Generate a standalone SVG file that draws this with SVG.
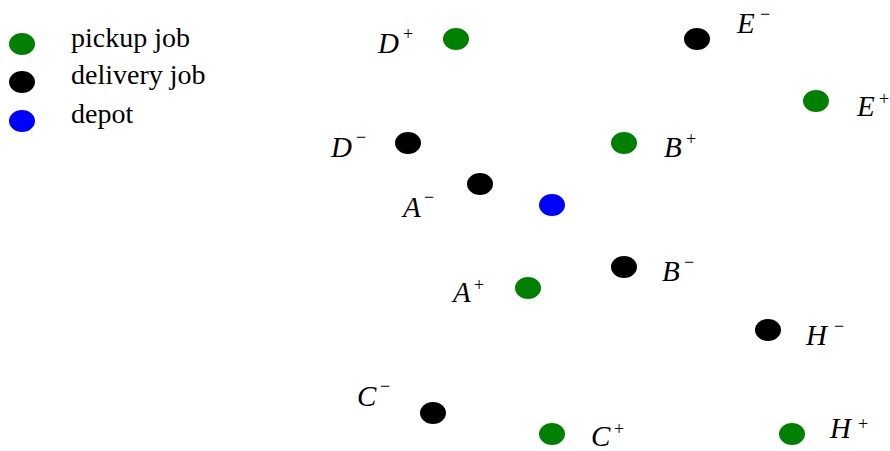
<svg xmlns="http://www.w3.org/2000/svg" width="890" height="451" viewBox="0 0 890 451">
  <style>
    .pick { fill: #008000; }
    .del { fill: #000000; }
    .dep { fill: #0000ff; }
    .leg { font-family: "Liberation Serif", "Times New Roman", serif; font-size: 28px; fill: #000; }
    .lbl { font-family: "Liberation Serif", "Times New Roman", serif; font-style: italic; font-size: 29px; fill: #000; }
    .sup { font-family: "Liberation Serif", "Times New Roman", serif; font-style: normal; font-size: 18px; fill: #000; }
  </style>
  <rect width="890" height="451" fill="#ffffff"/>

  <!-- legend -->
  <g id="legend">
    <ellipse class="pick" cx="22" cy="44" rx="13" ry="11"/>
    <ellipse class="del" cx="22" cy="82" rx="13" ry="11"/>
    <ellipse class="dep" cx="22" cy="121" rx="13" ry="11"/>
    <text class="leg" x="71" y="47">pickup job</text>
    <text class="leg" x="71" y="84">delivery job</text>
    <text class="leg" x="71" y="123">depot</text>
  </g>

  <!-- jobs -->
  <g id="Dp"><ellipse class="pick" cx="456" cy="39" rx="13" ry="11"/>
    <text class="lbl" x="378" y="53">D</text><text class="sup" x="403" y="40">+</text></g>
  <g id="Em"><ellipse class="del" cx="697" cy="39" rx="13" ry="11"/>
    <text class="lbl" x="737" y="33">E</text><text class="sup" x="760" y="20">−</text></g>
  <g id="Ep"><ellipse class="pick" cx="816" cy="101" rx="13" ry="11"/>
    <text class="lbl" x="857" y="116">E</text><text class="sup" x="879" y="105">+</text></g>
  <g id="Dm"><ellipse class="del" cx="408" cy="143" rx="13" ry="11"/>
    <text class="lbl" x="331" y="157">D</text><text class="sup" x="356" y="143">−</text></g>
  <g id="Bp"><ellipse class="pick" cx="624" cy="143" rx="13" ry="11"/>
    <text class="lbl" x="664" y="157">B</text><text class="sup" x="686" y="145">+</text></g>
  <g id="Am"><ellipse class="del" cx="480" cy="184" rx="13" ry="11"/>
    <text class="lbl" x="403" y="217">A</text><text class="sup" x="424" y="203">−</text></g>
  <g id="depot"><ellipse class="dep" cx="552" cy="205" rx="13" ry="11"/></g>
  <g id="Bm"><ellipse class="del" cx="624" cy="267" rx="13" ry="11"/>
    <text class="lbl" x="662" y="281">B</text><text class="sup" x="684" y="268">−</text></g>
  <g id="Ap"><ellipse class="pick" cx="528" cy="288" rx="13" ry="11"/>
    <text class="lbl" x="453" y="302">A</text><text class="sup" x="474" y="291">+</text></g>
  <g id="Hm"><ellipse class="del" cx="768" cy="330" rx="13" ry="11"/>
    <text class="lbl" x="806" y="345">H</text><text class="sup" x="834" y="332">−</text></g>
  <g id="Cm"><ellipse class="del" cx="433" cy="413" rx="13" ry="11"/>
    <text class="lbl" x="357" y="406">C</text><text class="sup" x="380" y="392">−</text></g>
  <g id="Cp"><ellipse class="pick" cx="552" cy="434" rx="13" ry="11"/>
    <text class="lbl" x="591" y="446">C</text><text class="sup" x="614" y="435">+</text></g>
  <g id="Hp"><ellipse class="pick" cx="792" cy="434" rx="13" ry="11"/>
    <text class="lbl" x="830" y="438">H</text><text class="sup" x="858" y="430">+</text></g>

  <g id="connectors"></g>
</svg>
